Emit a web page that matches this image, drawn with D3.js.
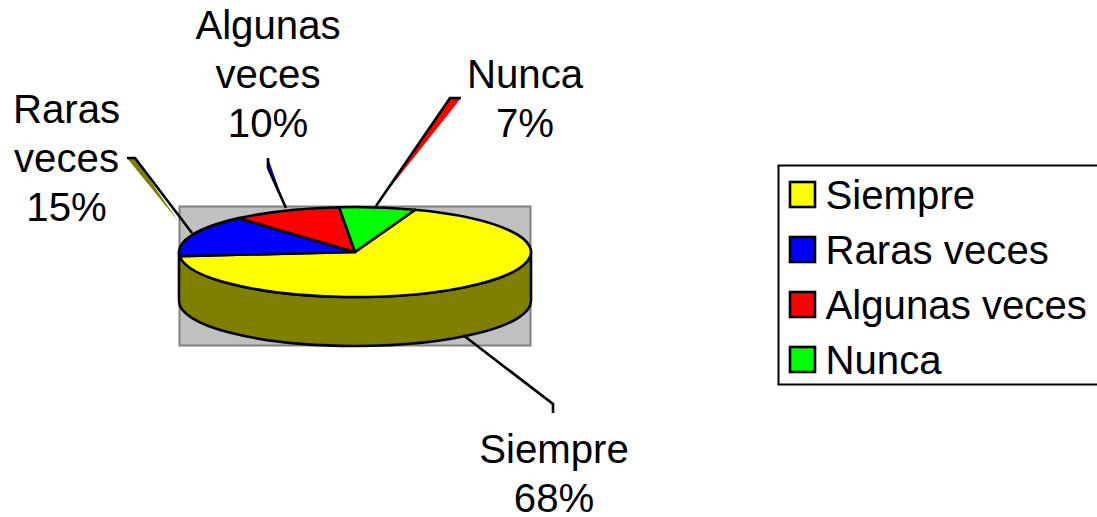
<!DOCTYPE html>
<html>
<head>
<meta charset="utf-8">
<script src="https://cdn.jsdelivr.net/npm/d3@7"></script>
<style>
html, body { margin: 0; padding: 0; background: #fff; overflow: hidden; }
text { font-family: "Liberation Sans", Arial, sans-serif; font-size: 40.2px; fill: #000; }
</style>
</head>
<body>
<script>
// chart values
var categories = ["Siempre", "Raras veces", "Algunas veces", "Nunca"];
var percents = [68, 15, 10, 7];
var colors = ["#ffff00", "#0000ff", "#ff0000", "#00ff00"];

var width = 1097,
    height = 517;

// 3D pie geometry
var cx = 355, cy = 252, rx = 176, ry = 45, depth = 49;
var startAngle = 20 * Math.PI / 180;
var strokeW = 2.6;

var svg = d3.select("body").append("svg")
    .attr("width", width)
    .attr("height", height)
    .style("display", "block");

// Grey plot area behind the pie
svg.append("rect")
    .attr("x", 179.5).attr("y", 206.5)
    .attr("width", 351).attr("height", 139)
    .attr("fill", "#c0c0c0")
    .attr("stroke", "#808080")
    .attr("stroke-width", 2);

var pie = d3.pie().sort(null)
    .startAngle(startAngle)
    .endAngle(startAngle + 2 * Math.PI);
var slices = pie(percents);

// Side wall of the pie, only the front half shows
var wallStr = "M" + (cx - rx) + "," + cy +
    "L" + (cx - rx) + "," + (cy + depth) +
    "A" + rx + "," + ry + " 0 0 0 " + (cx + rx) + "," + (cy + depth) +
    "L" + (cx + rx) + "," + cy +
    "A" + rx + "," + ry + " 0 0 1 " + (cx - rx) + "," + cy + "Z";

svg.append("path")
    .attr("d", wallStr)
    .attr("fill", "#808000")
    .attr("stroke", "#000")
    .attr("stroke-width", strokeW)
    .attr("stroke-linejoin", "round");

// Top face, circle arcs squashed into an ellipse
var arc = d3.arc().innerRadius(0).outerRadius(rx);

svg.append("g")
    .attr("transform", "translate(" + cx + "," + cy + ") scale(1," + (ry / rx) + ")")
    .selectAll("path")
    .data(slices)
    .enter().append("path")
    .attr("d", arc)
    .attr("fill", function (d, i) { return colors[i]; })
    .attr("stroke", "#000")
    .attr("stroke-width", strokeW)
    .attr("stroke-linejoin", "round")
    .attr("vector-effect", "non-scaling-stroke");

// Leader lines, the fill makes the thin wedge next to the line
var leaders = [
    { fill: "none", line: [[463, 335], [553, 404], [553, 413]] },
    { fill: "#808000", line: [[192, 233], [135, 158], [127, 158]], wedge: [[178, 221], [135, 158], [127, 158]] },
    { fill: "#0000ff", line: [[286, 208], [268, 168], [268, 158]], wedge: [[283, 200], [268, 168], [268, 158]] },
    { fill: "#ff0000", line: [[376, 206], [450, 98], [461, 98]], wedge: [[385, 194], [450, 98], [461, 98]] }
];
var lineGen = d3.line();

svg.selectAll(".wedge")
    .data(leaders.filter(function (d) { return d.wedge; }))
    .enter().append("path")
    .attr("class", "wedge")
    .attr("d", function (d) { return lineGen(d.wedge) + "Z"; })
    .attr("fill", function (d) { return d.fill; });

svg.selectAll(".leader")
    .data(leaders)
    .enter().append("path")
    .attr("class", "leader")
    .attr("d", function (d) { return lineGen(d.line); })
    .attr("fill", "none")
    .attr("stroke", "#000")
    .attr("stroke-width", strokeW);

// Data labels
var labelLines = [
    ["Siempre"],
    ["Raras", "veces"],
    ["Algunas", "veces"],
    ["Nunca"]
];
var labelPos = [
    { x: 554, y: 462.5 },
    { x: 66.5, y: 123 },
    { x: 268, y: 38.5 },
    { x: 525, y: 87.5 }
];
var lineHeight = 49;

var labels = svg.selectAll(".label")
    .data(categories)
    .enter().append("text")
    .attr("class", "label")
    .attr("text-anchor", "middle");

labels.each(function (d, i) {
    var rows = labelLines[i].concat([percents[i] + "%"]);
    d3.select(this).selectAll("tspan")
        .data(rows)
        .enter().append("tspan")
        .attr("x", labelPos[i].x)
        .attr("y", function (r, j) { return labelPos[i].y + j * lineHeight; })
        .text(function (r) { return r; });
});

// Legend, the box runs off the right edge of the picture
svg.append("rect")
    .attr("x", 778.5).attr("y", 165.5)
    .attr("width", 330).attr("height", 219)
    .attr("fill", "#fff")
    .attr("stroke", "#000")
    .attr("stroke-width", 2);

var legendY = d3.scalePoint().domain(categories).range([195, 360]);

var legend = svg.selectAll(".legend")
    .data(categories)
    .enter().append("g")
    .attr("class", "legend")
    .attr("transform", function (d) { return "translate(0," + legendY(d) + ")"; });

legend.append("rect")
    .attr("x", 790).attr("y", -13)
    .attr("width", 25).attr("height", 25)
    .attr("fill", function (d, i) { return colors[i]; })
    .attr("stroke", "#000")
    .attr("stroke-width", 2.6);

legend.append("text")
    .attr("x", 825.5)
    .attr("y", 14)
    .text(function (d) { return d; });
</script>
</body>
</html>
